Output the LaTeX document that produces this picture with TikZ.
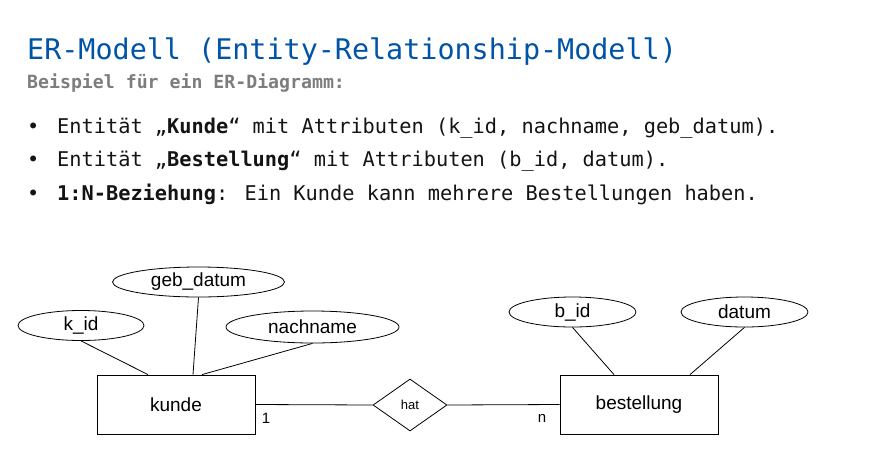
\documentclass[tikz,border=0pt]{standalone}
\usepackage{fontspec}
\setmainfont{Liberation Sans}
\newfontfamily\monof{DejaVu Sans Mono}
\usetikzlibrary{shapes.geometric,calc}
\definecolor{titleblue}{RGB}{0,84,166}
\definecolor{subgray}{RGB}{125,125,125}
\definecolor{bodytext}{RGB}{20,20,20}
\begin{document}
\begin{tikzpicture}[x=1pt,y=-1pt,
  attr/.style={draw,ellipse,inner sep=0pt,line width=0.8pt,font=\fontsize{19}{19}\selectfont},
  entbox/.style={draw,rectangle,inner sep=0pt,line width=0.8pt,minimum width=158pt,minimum height=59pt,font=\fontsize{19}{19}\selectfont},
  relbox/.style={draw,diamond,inner sep=0pt,line width=0.8pt,minimum width=74pt,minimum height=52pt,font=\fontsize{13}{13}\selectfont},
  conn/.style={line width=0.8pt},
  card/.style={inner sep=0pt,font=\fontsize{15}{15}\selectfont},
  bodyline/.style={anchor=base west,inner sep=0pt,text=bodytext,font=\monof\fontsize{20.3}{24}\selectfont},
  bulletdot/.style={anchor=base west,inner sep=0pt,text=bodytext,font=\monof\fontsize{20.3}{24}\selectfont}]
\fill[white] (0,0) rectangle (888,472);
\useasboundingbox (0,0) rectangle (888,472);
% heading
\node[anchor=base west,inner sep=0pt,text=titleblue,font=\monof\fontsize{28.4}{32}\selectfont] (title) at (27,59) {ER-Modell (Entity-Relationship-Modell)};
\node[anchor=base west,inner sep=0pt,text=subgray,font=\monof\bfseries\fontsize{18.2}{22}\selectfont] (subtitle) at (27,88) {Beispiel für ein ER-Diagramm:};
% bullets
\node[bulletdot] (b1) at (27,133) {•};
\node[bodyline] (l1) at (57,133) {Entität „\textbf{Kunde}“ mit Attributen (k\_id, nachname, geb\_datum).};
\node[bulletdot] (b2) at (27,166) {•};
\node[bodyline] (l2) at (57,166) {Entität „\textbf{Bestellung}“ mit Attributen (b\_id, datum).};
\node[bulletdot] (b3) at (27,200) {•};
\node[bodyline] (l3) at (57,200) {\textbf{1:N-Beziehung}: Ein Kunde kann mehrere Bestellungen haben.};
% diagram
\node[entbox] (kunde) at (176,404.5) {kunde};
\node[entbox] (bestellung) at (639,404.5) {bestellung};
\node[relbox] (hat) at (410,405) {hat};
\node[attr,minimum width=126pt,minimum height=30pt] (kid) at (81,325.5) {k\_id};
\node[attr,minimum width=172pt,minimum height=30pt] (gebdatum) at (198.5,282) {geb\_datum};
\node[attr,minimum width=173pt,minimum height=32pt] (nachname) at (312.5,327) {nachname};
\node[attr,minimum width=127pt,minimum height=30pt] (bid) at (572.5,312) {b\_id};
\node[attr,minimum width=127pt,minimum height=30pt] (datum) at (744.5,312) {datum};
% connectors
\draw[conn] (kid.south) -- ([xshift=-28pt]kunde.north);
\draw[conn] (gebdatum.south) -- ([xshift=17pt]kunde.north);
\draw[conn] (nachname.south) -- ([xshift=26pt]kunde.north);
\draw[conn] (bid.south) -- ([xshift=-25pt]bestellung.north);
\draw[conn] (datum.south) -- ([xshift=51pt]bestellung.north);
\draw[conn] (kunde.east) -- (hat.west);
\draw[conn] (hat.east) -- (bestellung.west);
\node[card] (one) at (266,418) {1};
\node[card] (en) at (542,418) {n};
\end{tikzpicture}
\end{document}
